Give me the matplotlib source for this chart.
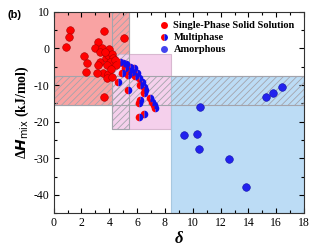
import matplotlib
matplotlib.use("Agg")
import matplotlib.pyplot as plt
from matplotlib.patches import Rectangle
from matplotlib.lines import Line2D
from matplotlib.ticker import MultipleLocator

plt.rcParams["font.family"] = "Liberation Serif"
plt.rcParams["axes.unicode_minus"] = False
plt.rcParams["hatch.linewidth"] = 0.6

# single-phase solid solution (delta, dHmix)
ss_delta = [1.19, 1.07, 0.9, 3.63, 5.07, 3.22, 2.99, 3.47, 4.0, 3.35, 2.2, 2.43, 3.35, 3.22,
            3.78, 3.94, 4.19, 4.26, 4.06, 4.42, 3.83, 2.34, 3.58, 3.94, 3.83, 4.19, 3.63, 4.5,
            3.7, 4.1, 3.1]
ss_dh = [5.0, 3.2, 0.4, 4.7, 2.7, 1.8, 0.2, 0.0, -0.3, -0.9, -2.1, -4.1, -3.6, -4.5,
         -2.7, -1.8, -1.4, -2.7, -3.6, -3.2, -4.5, -6.4, -6.8, -7.0, -8.2, -7.9, -13.4, -4.5,
         -1.0, -5.5, -6.6]

# multiphase
mp_delta = [4.98, 5.22, 5.5, 5.14, 5.63, 5.74, 5.99, 4.9, 5.31, 6.1, 6.35, 6.22, 6.46, 6.58,
            6.46, 6.94, 7.06, 7.18, 7.3, 6.22, 6.1, 6.46, 6.17, 4.62, 5.38, 4.78, 5.4, 5.85]
mp_dh = [-3.9, -4.3, -5.0, -5.4, -6.4, -5.4, -6.8, -6.8, -7.3, -8.2, -9.1, -10.0, -10.5, -11.4,
         -12.3, -13.6, -14.5, -15.4, -16.3, -14.1, -15.0, -17.9, -18.8, -9.1, -11.4, -3.6, -6.3, -7.6]

# amorphous
am_delta = [10.49, 15.29, 15.77, 16.42, 9.34, 10.3, 10.42, 12.58, 13.83]
am_dh = [-15.9, -13.2, -12.3, -10.6, -23.6, -23.5, -27.4, -30.2, -37.7]

fig = plt.figure(figsize=(3.1, 2.5), dpi=100)
ax = fig.add_axes([0.173, 0.147, 0.808, 0.806])

# shaded regions
ax.add_patch(Rectangle((0, -15.5), 5.4, 25.5, facecolor="#f9a3a3", edgecolor="#c8b0b0", lw=0.8, zorder=1))
ax.add_patch(Rectangle((4.2, -22), 4.2, 20.5, facecolor="#f5d0ec", edgecolor="#d8b8d0", lw=0.8, zorder=1))
ax.add_patch(Rectangle((8.4, -45), 9.6, 37.5, facecolor="#bcdcf5", edgecolor="#a8c8e0", lw=0.8, zorder=1))
ax.add_patch(Rectangle((0, -15.5), 18, 8.0, facecolor="none", edgecolor="#a4a4ac", hatch="/////", lw=0.8, zorder=2))
ax.add_patch(Rectangle((4.2, -22), 1.2, 32, facecolor="none", edgecolor="#a4a4ac", hatch="/////", lw=0.8, zorder=2))

ax.plot(ss_delta, ss_dh, "o", ms=5.5, color="#ff0000", mec="#aa0000", mew=0.4, ls="none", zorder=3)
ax.plot(mp_delta, mp_dh, "o", ms=5.5, color="#ff0000", markerfacecoloralt="#1010ee", fillstyle="left",
        mec="none", ls="none", zorder=4)
ax.plot(am_delta, am_dh, "o", ms=5.5, color="#2222ee", mec="#1010aa", mew=0.4, ls="none", zorder=4)

handles = [
    Line2D([], [], marker="o", ls="none", ms=5, color="#ff0000", mec="none"),
    Line2D([], [], marker="o", ls="none", ms=5, color="#ff0000", markerfacecoloralt="#1010ee",
           fillstyle="left", mec="none"),
    Line2D([], [], marker="o", ls="none", ms=5, color="#4444ee", mec="none"),
]
ax.legend(handles, ["Single-Phase Solid Solution", "Multiphase", "Amorphous"], loc="upper right",
          frameon=False, prop={"weight": "bold", "size": 7.5}, handletextpad=0.3, labelspacing=0.25,
          borderaxespad=0.5, handlelength=1.2)

ax.set_xlim(0, 18)
ax.set_ylim(-45, 10)
ax.xaxis.set_major_locator(MultipleLocator(2))
ax.xaxis.set_minor_locator(MultipleLocator(1))
ax.yaxis.set_major_locator(MultipleLocator(10))
ax.yaxis.set_minor_locator(MultipleLocator(5))
ax.tick_params(which="both", direction="in", top=True, right=True, labelsize=8.5, width=0.8, pad=3)
ax.tick_params(which="major", length=3.5)
ax.tick_params(which="minor", length=2)
for s in ax.spines.values():
    s.set_linewidth(0.8)
    s.set_color("#333333")

ax.set_xlabel("δ", fontsize=12, fontweight="bold", fontstyle="italic", labelpad=1)
ax.set_ylabel(r"Δ$\mathbfit{H}_{\mathrm{mix}}$ (kJ/mol)", fontsize=10, fontweight="bold", labelpad=2)
fig.text(0.025, 0.93, "(b)", fontsize=8, fontweight="bold", family="Liberation Sans")

fig.savefig("out.png", dpi=100)
